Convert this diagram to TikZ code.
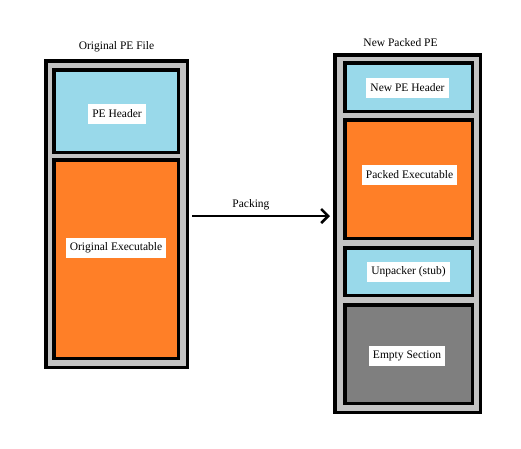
\documentclass[tikz,border=0pt]{standalone}
\usepackage{fontspec}
\setmainfont{Liberation Serif}
\usetikzlibrary{arrows.meta,positioning}
\definecolor{framegray}{RGB}{195,195,195}
\definecolor{hdrblue}{RGB}{153,217,234}
\definecolor{exeorange}{RGB}{255,127,39}
\definecolor{emptygray}{RGB}{127,127,127}

\begin{document}
\begin{tikzpicture}[x=1pt,y=-1pt,>={Straight Barb[length=7pt,width=14pt]},font=\fontsize{11.5}{13}\selectfont]
  \tikzstyle{frame}=[draw,line width=3.5pt,fill=framegray,inner sep=0pt]
  \tikzstyle{sect}=[draw,line width=3.5pt,inner sep=0pt]
  \tikzstyle{lbl}=[fill=white,inner xsep=4pt,inner ysep=0pt,minimum height=20pt]
  \useasboundingbox (0,0) rectangle (521,448);
  % original file
  \node[frame,minimum width=141.5pt,minimum height=306.5pt] (origfile) at (116.5,214) {};
  \node[above=3pt of origfile] (origtitle) {Original PE File};
  \node[sect,fill=hdrblue,minimum width=124.5pt,minimum height=82.5pt] (pehdr) at (116,111) {};
  \node[sect,fill=exeorange,minimum width=124.5pt,minimum height=198.5pt,below=4pt of pehdr] (origexe) {};
  \node[lbl] (pehdrlbl) at (117,113.5) {PE Header};
  \node[lbl] (origexelbl) at (116,248) {Original Executable};
  % packed file
  \node[frame,minimum width=145.5pt,minimum height=357.5pt] (newfile) at (407.5,233.5) {};
  \node[above=3pt of newfile,xshift=-7pt] (newtitle) {New Packed PE};
  \node[sect,fill=hdrblue,minimum width=127.5pt,minimum height=48.5pt] (newhdr) at (408.5,87) {};
  \node[sect,fill=exeorange,minimum width=127.5pt,minimum height=118.5pt,below=5pt of newhdr] (packexe) {};
  \node[sect,fill=hdrblue,minimum width=127.5pt,minimum height=47.5pt,below=6pt of packexe] (stub) {};
  \node[sect,fill=emptygray,minimum width=127.5pt,minimum height=98.5pt,below=6pt of stub] (empty) {};
  \node[lbl] (newhdrlbl) at (407.5,87.5) {New PE Header};
  \node[lbl] (packexelbl) at (409.5,174.5) {Packed Executable};
  \node[lbl] (stublbl) at (408.5,272) {Unpacker (stub)};
  \node[lbl] (emptylbl) at (407,355.5) {Empty Section};
  % packing step
  \draw[line width=2.5pt,->,shorten <=3pt,shorten >=3pt] ([yshift=-2pt]origfile.east) -- ([yshift=-2pt]origfile.east -| newfile.west)
    node[pos=0.43,above=1pt] {Packing};
\end{tikzpicture}
\end{document}
